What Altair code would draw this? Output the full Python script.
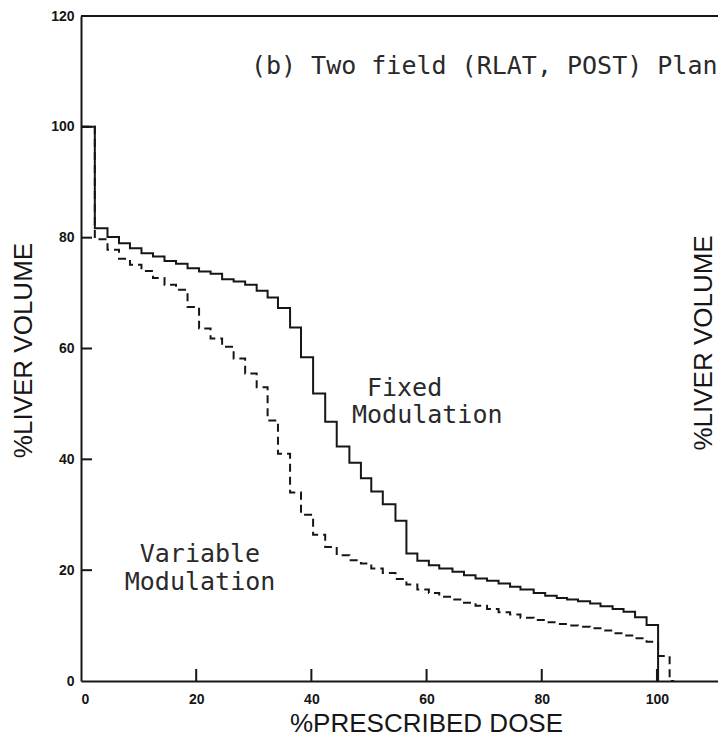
import altair as alt
import pandas as pd

# Dose bin edges (% prescribed dose)
dose_edges = [0, 2.4, 4.6, 6.6, 8.5, 10.5, 12.5, 14.5, 16.5, 18.5,
              20.5, 22.5, 24.5, 26.5, 28.5, 30.5, 32.4, 34.2, 36.3, 38.2,
              40.3, 42.4, 44.4, 46.6, 48.6, 50.4, 52.4, 54.6, 56.5, 58.4,
              60.4, 62.2, 64.5, 66.5, 68.5, 70.5, 72.5, 74.5, 76.3, 78.6,
              80.6, 82.6, 84.4, 86.3, 88.4, 90.2, 92.3, 94.2, 96.2, 98.2,
              100.2]

# Fixed modulation (solid) % liver volume
fixed_volume = [100, 81.7, 80.1, 79.0, 78.1, 77.2, 76.6, 75.8, 75.3, 74.5,
                73.9, 73.5, 72.5, 72.1, 71.5, 70.4, 69.2, 67.3, 63.8, 58.4,
                51.9, 46.8, 42.3, 39.4, 36.6, 34.2, 31.9, 28.9, 23.0, 21.7,
                20.9, 20.3, 19.7, 19.1, 18.5, 18.1, 17.6, 17.0, 16.5, 15.9,
                15.4, 15.0, 14.7, 14.4, 14.0, 13.5, 13.0, 12.5, 11.5, 10.1,
                0]

# Variable modulation (dashed) % liver volume
variable_dose = dose_edges + [102.2, 103.0]
variable_volume = [100, 79.7, 77.8, 76.2, 75.1, 74.0, 72.7, 71.5, 70.6, 67.5,
                   63.6, 61.8, 60.3, 58.2, 55.5, 53.0, 47.0, 41.0, 34.0, 30.0,
                   26.4, 24.2, 22.7, 21.8, 21.2, 20.3, 19.5, 18.4, 17.4, 16.5,
                   15.9, 15.2, 14.7, 14.1, 13.6, 13.0, 12.4, 12.0, 11.4, 11.0,
                   10.6, 10.3, 10.0, 9.8, 9.5, 9.1, 8.6, 8.2, 7.7, 7.1,
                   4.5, 0, 0]

x_ticks = [0, 20, 40, 60, 80, 100]
y_ticks = [0, 20, 40, 60, 80, 100, 120]
inner_x_ticks = [20, 40, 60, 80, 100]
inner_y_ticks = [20, 40, 60, 80, 100]

mono_labels = ["(b) Two field (RLAT, POST) Plan", "Fixed", "Modulation",
               "Variable", "Modulation"]
mono_dose = [29.5, 49.65, 47.05, 10.2, 7.6]
mono_volume = [111.0, 52.9, 48.0, 22.9, 17.9]

INK = "#161616"
W, H = 637, 665
X_MAX = 110.6

fixed_df = pd.DataFrame({"dose": dose_edges, "volume": fixed_volume})
var_df = pd.DataFrame({"dose": variable_dose, "volume": variable_volume})

xs = alt.Scale(domain=[0, X_MAX], nice=False, zero=False)
ys = alt.Scale(domain=[0, 120], nice=False, zero=False)

X = alt.X("dose:Q", scale=xs, axis=alt.Axis(
    values=x_ticks, ticks=False, grid=False, format="d",
    labelFont="Liberation Sans", labelFontWeight="bold", labelFontSize=14,
    labelColor=INK, labelPadding=11,
    domainColor=INK, domainWidth=2,
    title="%PRESCRIBED DOSE", titleFont="Liberation Sans", titleFontSize=26,
    titleFontWeight="normal", titleColor=INK, titleX=345, titleY=42,
    titleBaseline="middle", titleAlign="center"))
Y = alt.Y("volume:Q", scale=ys, axis=alt.Axis(
    values=y_ticks, ticks=False, grid=False, format="d",
    labelFont="Liberation Sans", labelFontWeight="bold", labelFontSize=14,
    labelColor=INK, labelPadding=7,
    domainColor=INK, domainWidth=2,
    title="%LIVER VOLUME", titleFont="Liberation Sans", titleFontSize=26,
    titleFontWeight="normal", titleColor=INK, titleX=-58, titleY=334,
    titleBaseline="middle", titleAlign="center", titleAngle=270))

fixed_line = alt.Chart(fixed_df).mark_line(
    interpolate="step-after", color=INK, strokeWidth=2).encode(x=X, y=Y)
var_line = alt.Chart(var_df).mark_line(
    interpolate="step-after", color=INK, strokeWidth=2,
    strokeDash=[8, 5]).encode(x=X, y=Y)

ytick_df = pd.DataFrame({"volume": inner_y_ticks})
xtick_df = pd.DataFrame({"dose": inner_x_ticks})
yticks = alt.Chart(ytick_df).mark_rule(color=INK, strokeWidth=2).encode(
    y=Y, x=alt.value(0), x2=alt.value(11))
xticks = alt.Chart(xtick_df).mark_rule(color=INK, strokeWidth=2).encode(
    x=X, y=alt.value(H), y2=alt.value(H - 12))

top_df = pd.DataFrame({"volume": [120]})
top_line = alt.Chart(top_df).mark_rule(color=INK, strokeWidth=2).encode(
    y=Y, x=alt.value(0), x2=alt.value(W))

mono_df = pd.DataFrame({"dose": mono_dose, "volume": mono_volume,
                        "label": mono_labels})
mono_text = alt.Chart(mono_df).mark_text(
    font="DejaVu Sans Mono", fontSize=25, align="left", baseline="middle",
    color="#2a2a2a").encode(x=X, y=Y, text="label:N")

right_df = pd.DataFrame({"dose": [108.2], "volume": [61.0],
                         "label": ["%LIVER VOLUME"]})
right_title = alt.Chart(right_df).mark_text(
    font="Liberation Sans", fontSize=26, angle=270, align="center",
    baseline="middle", color=INK).encode(x=X, y=Y, text="label:N")

chart = alt.layer(top_line, fixed_line, var_line, yticks, xticks,
                  mono_text, right_title).properties(
    width=W, height=H,
    autosize=alt.AutoSizeParams(type="none"),
    padding={"left": 73, "top": 8, "right": 0, "bottom": 57},
    background="white",
).configure_view(stroke=None)

chart.save("out.html", embed_options={"renderer": "svg", "actions": False})
